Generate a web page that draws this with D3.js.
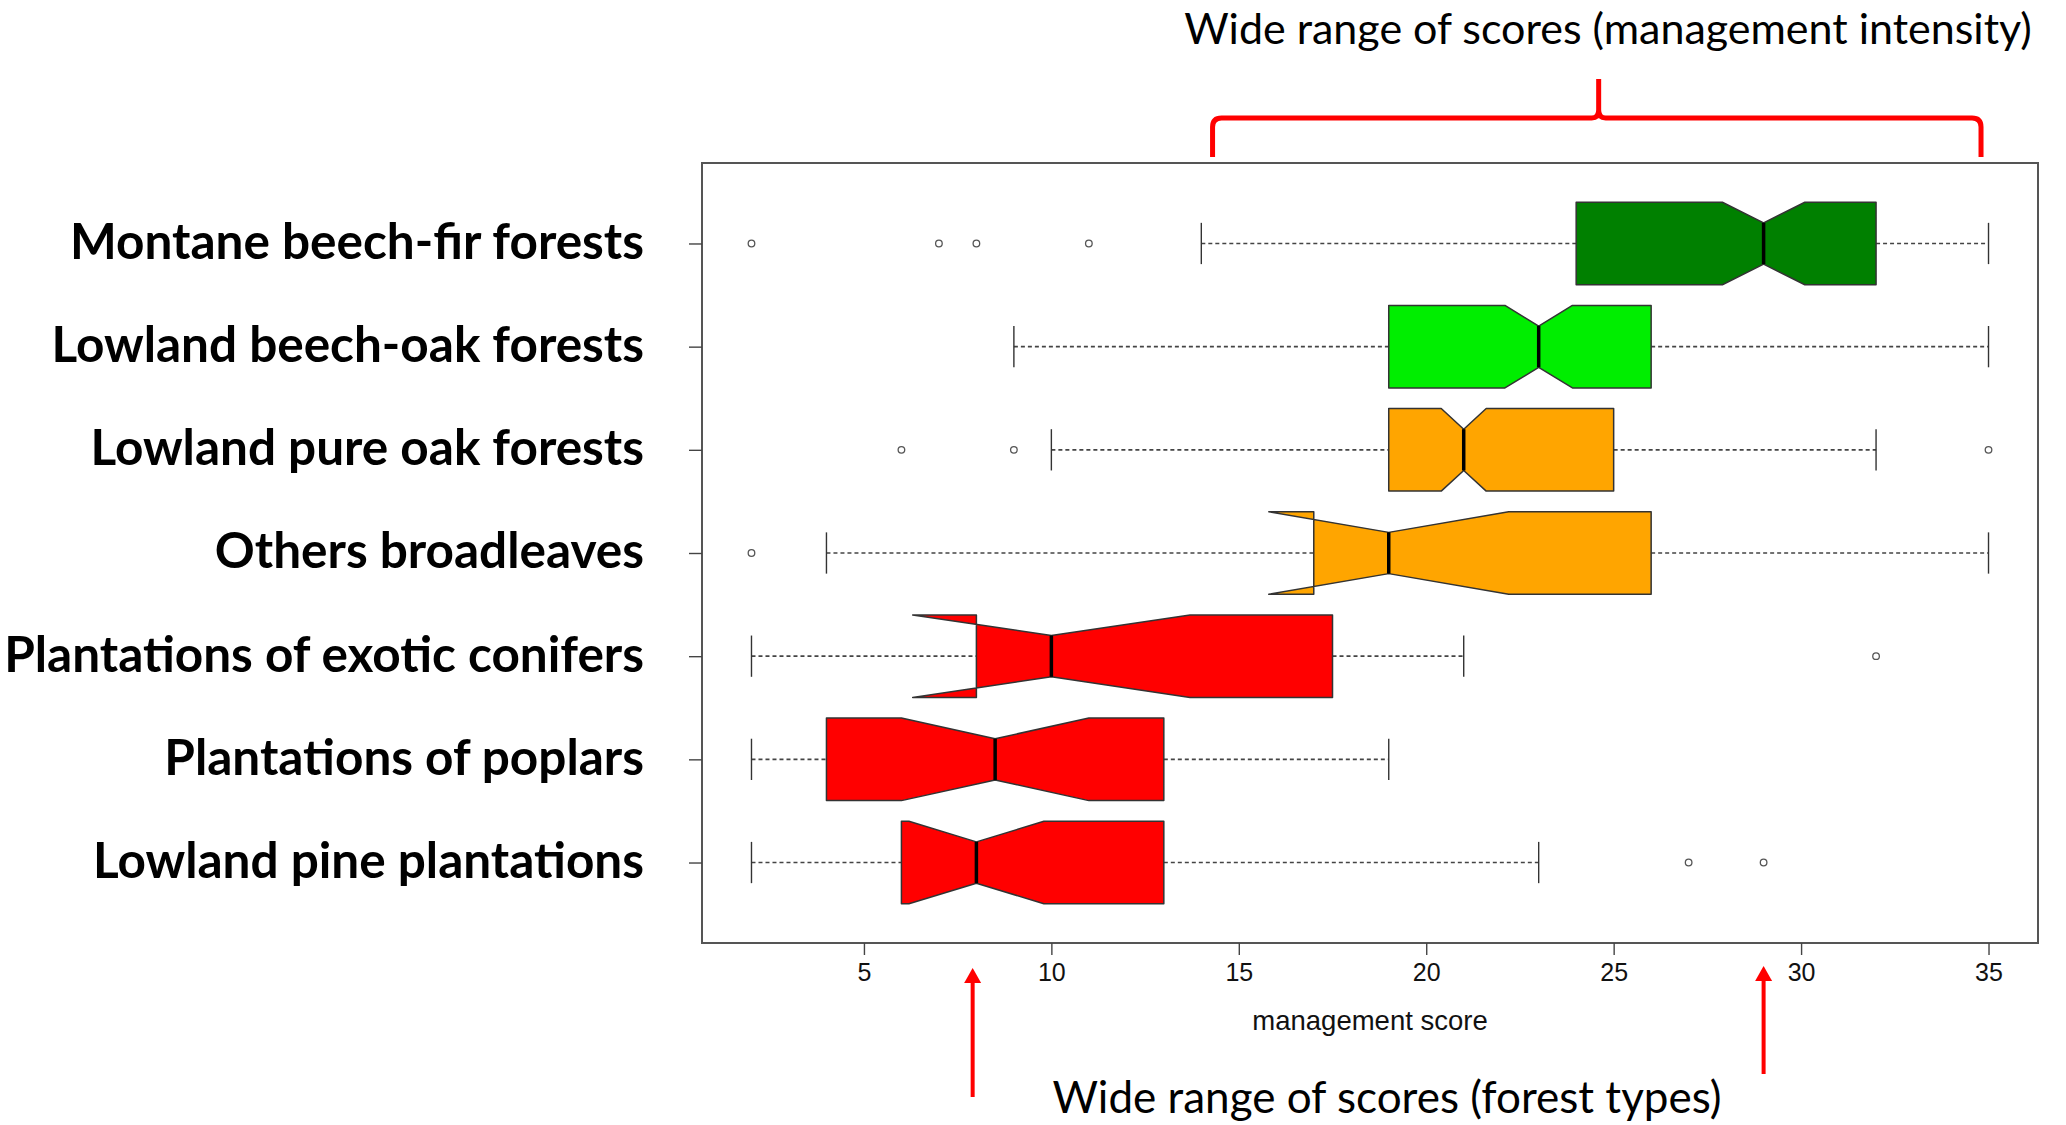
<!DOCTYPE html>
<html>
<head>
<meta charset="utf-8">
<script src="https://cdn.jsdelivr.net/npm/d3@7"></script>
<style>
  body { margin: 0; background: #fff; }
  svg { display: block; }
</style>
</head>
<body>
<script>
const width = 2066;
const height = 1125;

// forest types, top to bottom
const categories = [
  "Montane beech-fir forests",
  "Lowland beech-oak forests",
  "Lowland pure oak forests",
  "Others broadleaves",
  "Plantations of exotic conifers",
  "Plantations of poplars",
  "Lowland pine plantations"
];
const whiskerLow  = [14,   9,    10,   4,    2,    2,    2];
const q1          = [24,   19,   19,   17,   8,    4,    6];
const median      = [29,   23,   21,   19,   10,   8.5,  8];
const q3          = [32,   26,   25,   26,   17.5, 13,   13];
const whiskerHigh = [35,   35,   32,   35,   21,   19,   23];
const notchLow    = [27.9, 22.1, 20.4, 15.8, 6.3,  6.0,  6.2];
const notchHigh   = [30.1, 23.9, 21.6, 22.2, 13.7, 11.0, 9.8];
const outliers    = [[2, 7, 8, 11], [], [6, 9, 35], [2], [32], [], [27, 29]];
const xTicks = [5, 10, 15, 20, 25, 30, 35];

// annotation anchors (in score units)
const braceRange = [14.3, 24.6, 34.8];
const arrowScores = [7.9, 29];

const fills = ["#008000", "#00EE00", "#FFA500", "#FFA500", "#FF0000", "#FF0000", "#FF0000"];

const plotL = 702, plotR = 2038, plotT = 163, plotB = 943;

const svg = d3.select("body").append("svg")
    .attr("width", width)
    .attr("height", height);

// R-like range: extent plus 4% each side
const allVals = [...whiskerLow, ...whiskerHigh, ...outliers.flat()];
const lo = d3.min(allVals), hi = d3.max(allVals);
const pad = (hi - lo) * 0.04;
const x = d3.scaleLinear().domain([lo - pad, hi + pad]).range([plotL, plotR]);
const y = d3.scaleLinear().domain([-0.78, categories.length - 0.22]).range([plotT, plotB]);

const boxes = categories.map((c, i) => ({
  i, wl: whiskerLow[i], q1: q1[i], med: median[i], q3: q3[i], wh: whiskerHigh[i],
  nl: notchLow[i], nh: notchHigh[i], out: outliers[i], fill: fills[i]
}));

const g = svg.append("g");

// whiskers
const wk = g.append("g")
    .attr("stroke", "#444")
    .attr("stroke-width", 1.6)
    .attr("stroke-dasharray", "4,3");
wk.selectAll("line.lo").data(boxes).join("line")
    .attr("x1", d => x(d.wl)).attr("x2", d => x(d.q1))
    .attr("y1", d => y(d.i)).attr("y2", d => y(d.i));
wk.selectAll("line.hi").data(boxes).join("line")
    .attr("class", "hi")
    .attr("x1", d => x(d.q3)).attr("x2", d => x(d.wh))
    .attr("y1", d => y(d.i)).attr("y2", d => y(d.i));

// staples
const st = g.append("g").attr("stroke", "#333").attr("stroke-width", 1.4);
st.selectAll("line").data(boxes.flatMap(d => [[d.i, d.wl], [d.i, d.wh]])).join("line")
    .attr("x1", d => x(d[1])).attr("x2", d => x(d[1]))
    .attr("y1", d => y(d[0] - 0.2)).attr("y2", d => y(d[0] + 0.2));

// notched boxes
g.append("g").selectAll("polygon").data(boxes).join("polygon")
    .attr("fill", d => d.fill)
    .attr("stroke", "#333")
    .attr("stroke-width", 1.5)
    .attr("stroke-linejoin", "round")
    .attr("points", d => {
      const t = y(d.i - 0.4), b = y(d.i + 0.4), mt = y(d.i - 0.2), mb = y(d.i + 0.2);
      return [
        [x(d.q1), t], [x(d.nl), t], [x(d.med), mt], [x(d.nh), t], [x(d.q3), t],
        [x(d.q3), b], [x(d.nh), b], [x(d.med), mb], [x(d.nl), b], [x(d.q1), b]
      ].map(p => p.join(",")).join(" ");
    });

// medians
g.append("g").selectAll("line").data(boxes).join("line")
    .attr("stroke", "#000")
    .attr("stroke-width", 3.5)
    .attr("x1", d => x(d.med)).attr("x2", d => x(d.med))
    .attr("y1", d => y(d.i - 0.2)).attr("y2", d => y(d.i + 0.2));

// outliers
g.append("g").selectAll("circle")
    .data(boxes.flatMap(d => d.out.map(v => [d.i, v])))
    .join("circle")
    .attr("cx", d => x(d[1])).attr("cy", d => y(d[0]))
    .attr("r", 3.3)
    .attr("fill", "#fff")
    .attr("stroke", "#555")
    .attr("stroke-width", 1.3);

// frame
svg.append("rect")
    .attr("x", plotL).attr("y", plotT)
    .attr("width", plotR - plotL).attr("height", plotB - plotT)
    .attr("fill", "none").attr("stroke", "#555").attr("stroke-width", 2);

// x axis
const xAxis = svg.append("g")
    .attr("transform", `translate(0,${plotB})`)
    .call(d3.axisBottom(x).tickValues(xTicks).tickSize(12).tickPadding(8));
xAxis.select(".domain").remove();
xAxis.selectAll("line").attr("stroke", "#444").attr("stroke-width", 1.4);
xAxis.selectAll("text")
    .attr("font-family", "Liberation Sans, Arial, sans-serif")
    .attr("font-size", 25)
    .attr("fill", "#111");

svg.append("text")
    .attr("x", (plotL + plotR) / 2).attr("y", 1030)
    .attr("text-anchor", "middle")
    .attr("font-family", "Liberation Sans, Arial, sans-serif")
    .attr("font-size", 27.5)
    .attr("fill", "#111")
    .text("management score");

// y axis
const yAxis = svg.append("g")
    .attr("transform", `translate(${plotL},0)`)
    .call(d3.axisLeft(y).tickValues(d3.range(categories.length))
      .tickFormat(i => categories[i]).tickSize(13).tickPadding(45));
yAxis.select(".domain").remove();
yAxis.selectAll("line").attr("stroke", "#444").attr("stroke-width", 1.4);
yAxis.selectAll("text")
    .attr("font-family", "Lato, sans-serif")
    .attr("font-weight", "bold")
    .attr("font-size", 49.5)
    .attr("fill", "#000")
    .attr("dy", "0.3em");

// brace on top
const red = "#FF0000";
const bx0 = x(braceRange[0]), bxm = x(braceRange[1]), bx1 = x(braceRange[2]);
const by = 118, byEnd = 157, byTop = 79;
svg.append("path")
    .attr("fill", "none")
    .attr("stroke", red)
    .attr("stroke-width", 5)
    .attr("d", `M${bx0},${byEnd} L${bx0},${by + 9} Q${bx0},${by} ${bx0 + 9},${by}
      L${bxm - 7},${by} Q${bxm},${by} ${bxm},${by - 8} L${bxm},${byTop}
      M${bxm},${by - 8} Q${bxm},${by} ${bxm + 7},${by}
      L${bx1 - 9},${by} Q${bx1},${by} ${bx1},${by + 9} L${bx1},${byEnd}`);

svg.append("text")
    .attr("x", 1608).attr("y", 44)
    .attr("text-anchor", "middle")
    .attr("font-family", "Lato, sans-serif")
    .attr("font-size", 43)
    .attr("fill", "#000")
    .text("Wide range of scores (management intensity)");

// arrows under the axis
const arrowEnds = [[968, 1097], [966, 1074]];
const arrows = svg.append("g").selectAll("g").data(arrowScores).join("g");
arrows.append("line")
    .attr("x1", d => x(d)).attr("x2", d => x(d))
    .attr("y1", (d, i) => arrowEnds[i][0] + 12).attr("y2", (d, i) => arrowEnds[i][1])
    .attr("stroke", red).attr("stroke-width", 4);
arrows.append("path")
    .attr("fill", red)
    .attr("d", (d, i) => {
      const cx = x(d), t = arrowEnds[i][0];
      return `M${cx},${t} L${cx + 8.5},${t + 15} L${cx - 8.5},${t + 15} Z`;
    });

svg.append("text")
    .attr("x", 1387).attr("y", 1113)
    .attr("text-anchor", "middle")
    .attr("font-family", "Lato, sans-serif")
    .attr("font-size", 44)
    .attr("fill", "#000")
    .text("Wide range of scores (forest types)");
</script>
</body>
</html>
